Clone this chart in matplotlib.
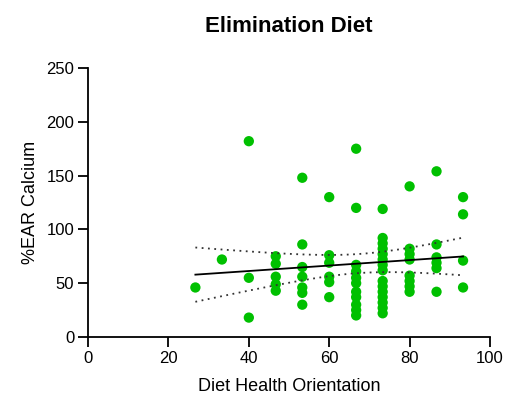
import matplotlib
matplotlib.use('Agg')
import matplotlib.pyplot as plt
import numpy as np

plt.rcParams['font.family'] = ['Liberation Sans', 'DejaVu Sans']

# diet health orientation score (x) and %EAR calcium (y)
x_cols = [26.7, 33.3, 40.0, 46.7, 53.3, 60.0, 66.7, 73.3, 80.0, 86.7, 93.3]
y_cols = [
    [46],
    [72],
    [182, 55, 18],
    [75, 68, 56, 49, 43],
    [148, 86, 65, 56, 46, 41, 30],
    [130, 76, 69, 56, 51, 37],
    [175, 120, 67, 61, 55, 50, 42, 37, 30, 25, 20],
    [119, 92, 87, 82, 77, 72, 67, 62, 52, 47, 42, 37, 32, 27, 22],
    [140, 82, 77, 72, 57, 52, 47, 42],
    [154, 86, 74, 69, 64, 42],
    [130, 114, 71, 46],
]

x = np.concatenate([[xc] * len(yc) for xc, yc in zip(x_cols, y_cols)])
y = np.concatenate([np.array(yc, float) for yc in y_cols])

# linear fit with 95% confidence band
n = len(x)
slope, icpt = np.polyfit(x, y, 1)
xs = np.linspace(x.min(), x.max(), 100)
fit = slope * xs + icpt
resid = y - (slope * x + icpt)
s = np.sqrt(np.sum(resid ** 2) / (n - 2))
se = s * np.sqrt(1.0 / n + (xs - x.mean()) ** 2 / np.sum((x - x.mean()) ** 2))
t = 1.995
lo = fit - t * se
hi = fit + t * se

fig = plt.figure(figsize=(5.12, 4.05), dpi=100)
ax = fig.add_axes([0.172, 0.168, 0.785, 0.664])

ax.scatter(x, y, s=55, color='#00c000', edgecolors='none', zorder=3)
ax.plot(xs, fit, color='black', lw=1.3, zorder=4)
ax.plot(xs, lo, color='#333333', lw=1.3, ls=(0, (1, 2.5)), zorder=4)
ax.plot(xs, hi, color='#333333', lw=1.3, ls=(0, (1, 2.5)), zorder=4)

ax.set_xlim(0, 100)
ax.set_ylim(0, 250)
ax.set_xticks([0, 20, 40, 60, 80, 100])
ax.set_yticks([0, 50, 100, 150, 200, 250])
ax.spines['top'].set_visible(False)
ax.spines['right'].set_visible(False)
for sp in ['left', 'bottom']:
    ax.spines[sp].set_linewidth(1.3)
ax.tick_params(direction='out', length=7, width=1.3, labelsize=12, pad=3)

ax.set_xlabel('Diet Health Orientation', fontsize=13, labelpad=9)
ax.set_ylabel('%EAR Calcium', fontsize=13, labelpad=5)
ax.set_title('Elimination Diet', fontsize=16, fontweight='bold', pad=26)

fig.savefig('out.png', dpi=100)
